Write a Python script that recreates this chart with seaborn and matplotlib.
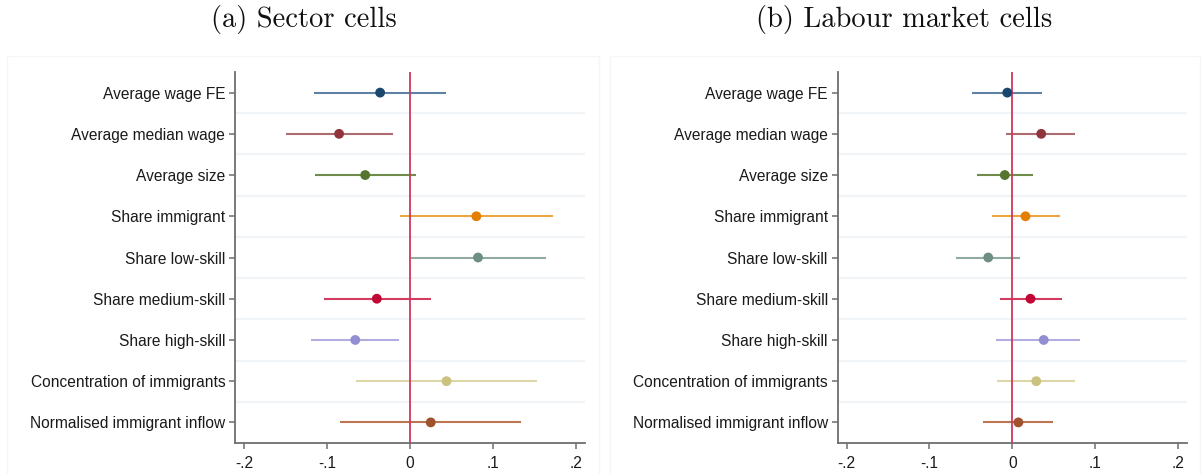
import numpy as np
import pandas as pd
import matplotlib
matplotlib.use("Agg")
import matplotlib.pyplot as plt
import seaborn as sns
from matplotlib.patches import Rectangle

# Regressors shown on the vertical axis (top to bottom)
variables = [
    "Average wage FE",
    "Average median wage",
    "Average size",
    "Share immigrant",
    "Share low-skill",
    "Share medium-skill",
    "Share high-skill",
    "Concentration of immigrants",
    "Normalised immigrant inflow",
]

# Panel (a): sector cells — point estimates and 95% CI bounds
sector_coef = [-0.036, -0.0855, -0.054, 0.080, 0.082, -0.040, -0.066, 0.044, 0.025]
sector_lo = [-0.116, -0.149, -0.1145, -0.0116, 0.001, -0.104, -0.119, -0.065, -0.085]
sector_hi = [0.044, -0.020, 0.007, 0.172, 0.164, 0.025, -0.013, 0.153, 0.134]

# Panel (b): labour market cells
labour_coef = [-0.006, 0.035, -0.009, 0.016, -0.029, 0.022, 0.038, 0.029, 0.0074]
labour_lo = [-0.048, -0.007, -0.042, -0.025, -0.068, -0.015, -0.020, -0.019, -0.035]
labour_hi = [0.036, 0.076, 0.0245, 0.058, 0.009, 0.060, 0.082, 0.076, 0.049]

panel_titles = ["(a) Sector cells", "(b) Labour market cells"]
xtick_values = [-0.2, -0.1, 0.0, 0.1, 0.2]
xtick_labels = ["-.2", "-.1", "0", ".1", ".2"]

# Stata s2color palette: solid markers, lighter CI lines
marker_colors = ["#1a476f", "#90353b", "#55752f", "#e37e00", "#6e8e84",
                 "#c10534", "#938dd2", "#cac27e", "#a0522d"]
line_colors = ["#5f81a3", "#ad6a70", "#6f8c4a", "#eda542", "#8faaa1",
               "#d23c60", "#b2aee2", "#ddd6a8", "#bb7553"]

sns.set_theme(style="white")
plt.rcParams["font.family"] = ["Liberation Sans", "DejaVu Sans"]

fig = plt.figure(figsize=(12.02, 4.74), dpi=100)

W, H = 1202.0, 474.0
axes_boxes = [
    (235 / W, (H - 443) / H, (585 - 235) / W, (443 - 72) / H),
    (837.5 / W, (H - 443) / H, (1187 - 837.5) / W, (443 - 72) / H),
]
panel_frames = [(7, 599), (610, 1200)]
title_centres = [303.5, 904]

panels = [
    (sector_coef, sector_lo, sector_hi),
    (labour_coef, labour_lo, labour_hi),
]

spine_color = "#6e6e6e"
grid_color = "#f0f4f7"

for i, (coef, lo, hi) in enumerate(panels):
    # faint graph-region frame
    x0, x1 = panel_frames[i]
    fig.add_artist(Rectangle((x0 / W, -0.05), (x1 - x0) / W, (H - 56) / H + 0.05,
                             transform=fig.transFigure, fill=False,
                             ec="#f6f6f6", lw=1.0, zorder=0))

    ax = fig.add_axes(axes_boxes[i])
    df = pd.DataFrame({"variable": variables, "coef": coef, "lo": lo, "hi": hi})

    # confidence intervals
    for _, row in df.iterrows():
        k = variables.index(row["variable"])
        ax.plot([row["lo"], row["hi"]], [row["variable"], row["variable"]],
                color=line_colors[k], lw=1.5, solid_capstyle="butt", zorder=2)

    # point estimates
    sns.scatterplot(data=df, x="coef", y="variable", hue="variable",
                    palette=marker_colors, s=50, edgecolor="none",
                    legend=False, ax=ax, zorder=4)

    ax.axvline(0, color="#d1365e", lw=1.3, zorder=3)

    n = len(variables)
    ax.set_ylim(n - 0.5, -0.5)
    ax.set_xlim(-0.211, 0.211)
    ax.set_xticks(xtick_values)
    ax.set_xticklabels(xtick_labels)

    # separators between rows
    ax.set_yticks(np.arange(0.5, n - 1, 1.0), minor=True)
    ax.grid(False)
    ax.grid(True, which="minor", axis="y", color=grid_color, lw=1.6)
    ax.tick_params(axis="y", which="minor", length=0)

    ax.set_xlabel("")
    ax.set_ylabel("")
    for side in ["top", "right"]:
        ax.spines[side].set_visible(False)
    for side in ["left", "bottom"]:
        ax.spines[side].set_color(spine_color)
        ax.spines[side].set_linewidth(1.3)

    ax.tick_params(axis="y", which="major", direction="out", length=4.5,
                   width=1.1, color=spine_color, pad=2.5,
                   labelsize=11.2, labelcolor="#1a1a1a", left=True)
    ax.tick_params(axis="x", which="major", direction="out", length=4.5,
                   width=1.1, color=spine_color, pad=4.5,
                   labelsize=11.2, labelcolor="#1a1a1a", bottom=True)

    fig.text(title_centres[i] / W, 1 - 19 / H, panel_titles[i],
             ha="center", va="center", fontsize=20.5, family="cmr10",
             color="#111111")

fig.savefig("out.png", dpi=100, facecolor="white")
